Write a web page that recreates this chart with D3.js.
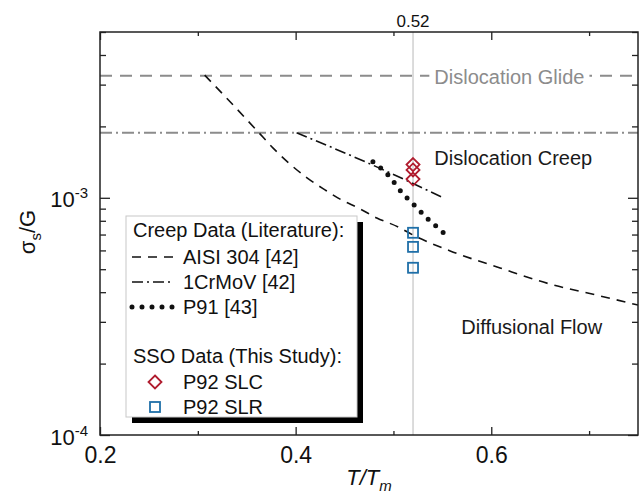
<!DOCTYPE html>
<html>
<head>
<meta charset="utf-8">
<script src="https://cdn.jsdelivr.net/npm/d3@7"></script>
<style>
  body { margin: 0; background: #fff; }
  svg { font-family: "Liberation Sans", Arial, sans-serif; }
</style>
</head>
<body>
<div id="canvas"></div>
<script>
// ticks
const xMajor = [0.2, 0.4, 0.6];
const xMinor = [0.3, 0.5, 0.7];
const yMajor = [1e-4, 1e-3];
const yMinor = [2e-4, 3e-4, 4e-4, 5e-4, 6e-4, 7e-4, 8e-4, 9e-4, 2e-3, 3e-3, 4e-3, 5e-3];

// literature creep curves (T/Tm vs sigma_s/G)
const aisiT = [0.307, 0.333, 0.362, 0.377, 0.394, 0.412, 0.430, 0.447, 0.464, 0.483, 0.505, 0.520, 0.558, 0.609, 0.660, 0.711, 0.750];
const aisiS = [3.29e-3, 2.54e-3, 1.89e-3, 1.62e-3, 1.39e-3, 1.21e-3, 1.08e-3, 9.79e-4, 9.06e-4, 8.22e-4, 7.53e-4, 6.97e-4, 5.97e-4, 5.06e-4, 4.33e-4, 3.86e-4, 3.53e-4];
const crmovT = [0.401, 0.476, 0.551];
const crmovS = [1.88e-3, 1.39e-3, 1.0e-3];
const p91T = [0.479, 0.495, 0.508, 0.522, 0.535, 0.550, 0.557];
const p91S = [1.42e-3, 1.24e-3, 1.06e-3, 9.25e-4, 8.15e-4, 7.19e-4, 6.72e-4];

// this study
const slcT = [0.52, 0.52, 0.52];
const slcS = [1.38e-3, 1.31e-3, 1.20e-3];
const slrT = [0.52, 0.52, 0.52];
const slrS = [7.12e-4, 6.21e-4, 5.07e-4];

// regime boundaries
const glideStress = 3.27e-3;
const creepStress = 1.88e-3;
const tRef = 0.52;

const curveNames = ["AISI 304 [42]", "1CrMoV [42]", "P91 [43]"];
const markerNames = ["P92 SLC", "P92 SLR"];

const width = 643;
const height = 503;
const margin = { top: 32, left: 100, bottom: 68, right: 5 };
const iwidth = width - margin.left - margin.right;
const iheight = height - margin.top - margin.bottom;

const svg = d3.select("#canvas").append("svg")
  .attr("width", width)
  .attr("height", height);

svg.append("rect").attr("width", width).attr("height", height).attr("fill", "#fff");

const g = svg.append("g").attr("transform", `translate(${margin.left}, ${margin.top})`);

const x = d3.scaleLinear().domain([0.2, 0.75]).range([0, iwidth]);
const y = d3.scaleLog().domain([1e-4, 5e-3]).range([iheight, 0]);

svg.append("defs").append("clipPath").attr("id", "clip")
  .append("rect").attr("width", iwidth).attr("height", iheight);

const plot = g.append("g").attr("clip-path", "url(#clip)");

// reference line at 0.52
plot.append("line")
  .attr("x1", x(tRef)).attr("x2", x(tRef))
  .attr("y1", 0).attr("y2", iheight)
  .attr("stroke", "#c4c4c4").attr("stroke-width", 1.2);

// regime boundaries
plot.append("line")
  .attr("x1", 0).attr("x2", iwidth)
  .attr("y1", y(glideStress)).attr("y2", y(glideStress))
  .attr("stroke", "#8c8c8c").attr("stroke-width", 1.8)
  .attr("stroke-dasharray", "12,8");
plot.append("line")
  .attr("x1", 0).attr("x2", iwidth)
  .attr("y1", y(creepStress)).attr("y2", y(creepStress))
  .attr("stroke", "#8c8c8c").attr("stroke-width", 2)
  .attr("stroke-dasharray", "12,4,2,4");

const line = d3.line()
  .x((d) => x(d[0]))
  .y((d) => y(d[1]))
  .curve(d3.curveMonotoneX);

plot.append("path")
  .datum(d3.zip(aisiT, aisiS))
  .attr("d", line)
  .attr("fill", "none").attr("stroke", "#111").attr("stroke-width", 1.6)
  .attr("stroke-dasharray", "9,7");

plot.append("path")
  .datum(d3.zip(crmovT, crmovS))
  .attr("d", line)
  .attr("fill", "none").attr("stroke", "#111").attr("stroke-width", 1.6)
  .attr("stroke-dasharray", "11,4,2,4");

plot.append("path")
  .datum(d3.zip(p91T, p91S))
  .attr("d", line)
  .attr("fill", "none").attr("stroke", "#111").attr("stroke-width", 5)
  .attr("stroke-linecap", "round")
  .attr("stroke-dasharray", "0,10");

// region labels
const glide = g.append("g");
const glideText = glide.append("text")
  .attr("x", x(0.5418)).attr("y", y(glideStress) + 1)
  .attr("dy", "0.35em")
  .attr("font-size", 20).attr("fill", "#8c8c8c")
  .text("Dislocation Glide");
const bb = glideText.node().getBBox();
glide.insert("rect", "text")
  .attr("x", bb.x - 5).attr("y", bb.y)
  .attr("width", bb.width + 10).attr("height", bb.height)
  .attr("fill", "#fff");

g.append("text")
  .attr("x", x(0.5418)).attr("y", y(1.475e-3))
  .attr("dy", "0.35em")
  .attr("font-size", 20).attr("fill", "#1a1a1a")
  .text("Dislocation Creep");

g.append("text")
  .attr("x", x(0.5694)).attr("y", y(2.86e-4))
  .attr("dy", "0.35em")
  .attr("font-size", 20).attr("fill", "#1a1a1a")
  .text("Diffusional Flow");

// markers
const diamond = (cx, cy, r) => `M${cx},${cy - r}L${cx + r},${cy}L${cx},${cy + r}L${cx - r},${cy}Z`;

g.selectAll(".slc")
  .data(d3.zip(slcT, slcS))
  .enter().append("path")
  .attr("class", "slc")
  .attr("d", (d) => diamond(x(d[0]), y(d[1]), 6.5))
  .attr("fill", "none").attr("stroke", "#b01c2e").attr("stroke-width", 1.8);

g.selectAll(".slr")
  .data(d3.zip(slrT, slrS))
  .enter().append("rect")
  .attr("class", "slr")
  .attr("x", (d) => x(d[0]) - 5).attr("y", (d) => y(d[1]) - 5)
  .attr("width", 10).attr("height", 10)
  .attr("fill", "none").attr("stroke", "#1f6fa8").attr("stroke-width", 1.8);

// axes
const styleAxis = (sel) => {
  sel.select(".domain").remove();
  sel.attr("font-family", null);
  sel.selectAll(".tick line").attr("stroke", "#222").attr("stroke-width", 1.3);
};

g.append("g")
  .attr("transform", `translate(0, ${iheight})`)
  .call(d3.axisBottom(x).tickValues(xMajor).tickSize(-8).tickPadding(12).tickFormat(d3.format(".1f")))
  .call(styleAxis)
  .attr("font-size", 23)
  .selectAll("text").attr("fill", "#111");

g.append("g")
  .attr("transform", `translate(0, ${iheight})`)
  .call(d3.axisBottom(x).tickValues(xMinor).tickSize(-4).tickFormat(""))
  .call(styleAxis);

g.append("g")
  .call(d3.axisTop(x).tickValues(xMajor).tickSize(-8).tickFormat(""))
  .call(styleAxis);

g.append("g")
  .call(d3.axisTop(x).tickValues(xMinor).tickSize(-4).tickFormat(""))
  .call(styleAxis);

g.append("g")
  .call(d3.axisLeft(y).tickValues(yMajor).tickSize(-10).tickFormat(""))
  .call(styleAxis);
g.append("g")
  .call(d3.axisLeft(y).tickValues(yMinor).tickSize(-6).tickFormat(""))
  .call(styleAxis);
g.append("g")
  .attr("transform", `translate(${iwidth}, 0)`)
  .call(d3.axisRight(y).tickValues(yMajor).tickSize(-10).tickFormat(""))
  .call(styleAxis);
g.append("g")
  .attr("transform", `translate(${iwidth}, 0)`)
  .call(d3.axisRight(y).tickValues(yMinor).tickSize(-6).tickFormat(""))
  .call(styleAxis);

// y tick labels with superscript exponents
yMajor.forEach((v) => {
  const t = g.append("text")
    .attr("x", -12).attr("y", y(v) + 2)
    .attr("dy", "0.35em")
    .attr("text-anchor", "end")
    .attr("font-size", 22).attr("fill", "#111");
  t.append("tspan").text("10");
  t.append("tspan").attr("font-size", 15).attr("dy", -9).text(String(Math.round(Math.log10(v))));
});

// frame
g.append("rect")
  .attr("width", iwidth).attr("height", iheight)
  .attr("fill", "none").attr("stroke", "#222").attr("stroke-width", 1.5);

// 0.52 label above the frame
g.append("text")
  .attr("x", x(tRef)).attr("y", -5)
  .attr("text-anchor", "middle")
  .attr("font-size", 17).attr("fill", "#111")
  .text(d3.format(".2f")(tRef));

// axis titles
const xt = svg.append("text")
  .attr("x", margin.left + iwidth / 2).attr("y", 485)
  .attr("text-anchor", "middle")
  .attr("font-size", 22).attr("font-style", "italic").attr("fill", "#111");
xt.append("tspan").text("T/T");
xt.append("tspan").attr("font-size", 15).attr("dy", 6).text("m");

const yt = svg.append("text")
  .attr("transform", "translate(35, 232) rotate(-90)")
  .attr("text-anchor", "middle")
  .attr("font-size", 22).attr("fill", "#111");
yt.append("tspan").text("σ");
yt.append("tspan").attr("font-size", 15).attr("dy", 6).text("s");
yt.append("tspan").attr("dy", -6).text("/G");

// legend
const lg = svg.append("g").attr("transform", "translate(126, 216)");
lg.append("rect")
  .attr("x", 6).attr("y", 6).attr("width", 231).attr("height", 201)
  .attr("fill", "#000");
lg.append("rect")
  .attr("width", 231).attr("height", 201)
  .attr("fill", "#fff").attr("stroke", "#c8c8c8").attr("stroke-width", 1);

lg.append("text").attr("x", 7).attr("y", 14).attr("dy", "0.35em")
  .attr("font-size", 20).attr("fill", "#111")
  .text("Creep Data (Literature):");

const curveStyles = [
  { dash: "9,7", width: 1.6, cap: "butt" },
  { dash: "11,4,2,4", width: 1.6, cap: "butt" },
  { dash: "0,10", width: 5, cap: "round" }
];

curveNames.forEach((name, i) => {
  const cy = 41 + i * 25;
  lg.append("line")
    .attr("x1", 6).attr("x2", 47).attr("y1", cy).attr("y2", cy)
    .attr("stroke", "#111").attr("stroke-width", curveStyles[i].width)
    .attr("stroke-linecap", curveStyles[i].cap)
    .attr("stroke-dasharray", curveStyles[i].dash);
  lg.append("text").attr("x", 57).attr("y", cy).attr("dy", "0.35em")
    .attr("font-size", 20).attr("fill", "#111").text(name);
});

lg.append("text").attr("x", 7).attr("y", 140).attr("dy", "0.35em")
  .attr("font-size", 20).attr("fill", "#111")
  .text("SSO Data (This Study):");

markerNames.forEach((name, i) => {
  const cy = 166 + i * 25;
  if (i === 0) {
    lg.append("path").attr("d", diamond(29, cy, 6.5))
      .attr("fill", "none").attr("stroke", "#b01c2e").attr("stroke-width", 1.8);
  } else {
    lg.append("rect").attr("x", 24).attr("y", cy - 5).attr("width", 10).attr("height", 10)
      .attr("fill", "none").attr("stroke", "#1f6fa8").attr("stroke-width", 1.8);
  }
  lg.append("text").attr("x", 57).attr("y", cy).attr("dy", "0.35em")
    .attr("font-size", 20).attr("fill", "#111").text(name);
});
</script>
</body>
</html>
